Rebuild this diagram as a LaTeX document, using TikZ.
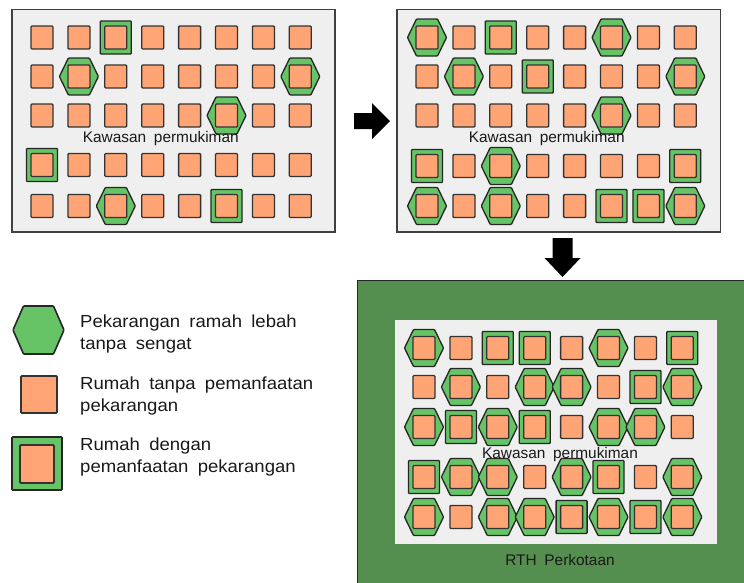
\documentclass[tikz,border=0pt]{standalone}
\usepackage{fontspec}
\setmainfont[WordSpace=1.8]{Liberation Sans}
\newfontfamily\ketfont[WordSpace=1.8,FakeStretch=1.06]{Liberation Sans}
\usepackage{tikz}
\definecolor{oranye}{HTML}{FFA575}
\definecolor{hijau}{HTML}{66C466}
\definecolor{hijautua}{HTML}{558F4F}
\definecolor{abu}{HTML}{EFEFEF}
\tikzset{
  rumah/.style={draw=black!80,fill=oranye,line width=1.3pt,rounded corners=1pt},
  kebun/.style={draw=black!85,fill=hijau,line width=1.3pt,rounded corners=0.8pt},
  panel/.style={draw=black!75,fill=abu,line width=1.2pt},
  teks/.style={inner sep=0pt,text=black!90,font=\fontsize{15.4}{18}\selectfont},
  legenda/.style={anchor=west,align=left,inner sep=0pt,text=black!90,font=\ketfont\fontsize{17.5}{22}\selectfont}
}

\begin{document}
\begin{tikzpicture}[x=1pt,y=-1pt]
      \useasboundingbox(0,0)rectangle(744,582);
      % kawasan awal
      \begin{scope}
        \draw[panel](12,9.5)rectangle(335,232);
        \foreach \c/\y in{2/76.5,8/76.5,6/115.5,3/206}{
          \draw[kebun,shift={({5.1+36.9*\c},\y)}](-19.5,0)--(-10.5,-18.5)--(10.5,-18.5)--(19.5,0)--(10.5,18.5)--(-10.5,18.5)--cycle;
        }
        \foreach \c/\y in{3/37.5,1/165,6/206}{
          \draw[kebun]({5.1+36.9*\c-15.5},\y-16.5)rectangle++(31,33);
        }
        \foreach \y in{37.5,76.5,115.5,165,206}{
          \foreach \c in{1,...,8}
            \draw[rumah]({5.1+36.9*\c-11},\y-11.5)rectangle++(22,23);
        }
        \node[teks](kawasanA)at(160.8,138.5){Kawasan permukiman};
      \end{scope}
      % kawasan dengan pekarangan
      \begin{scope}
        \draw[panel](397,9.5)rectangle(720.5,232);
        \foreach \c/\y in{1/37.5,6/37.5,2/76.5,8/76.5,6/115.5,3/166,1/206,3/206,8/206}{
          \draw[kebun,shift={({390.1+36.9*\c},\y)}](-19.5,0)--(-10.5,-18.5)--(10.5,-18.5)--(19.5,0)--(10.5,18.5)--(-10.5,18.5)--cycle;
        }
        \foreach \c/\y in{3/37.5,4/76.5,1/166,8/166,6/206,7/206}{
          \draw[kebun]({390.1+36.9*\c-15.5},\y-16.5)rectangle++(31,33);
        }
        \foreach \y in{37.5,76.5,115.5,166,206}{
          \foreach \c in{1,...,8}
            \draw[rumah]({390.1+36.9*\c-11},\y-11.5)rectangle++(22,23);
        }
        \node[teks](kawasanB)at(546.7,138.5){Kawasan permukiman};
      \end{scope}
      % panah
      \fill[black](354,113)--(372,113)--(372,103)--(390,121)--(372,139)--(372,129)--(354,129)--cycle;
      \fill[black](552.5,238)--(572.5,238)--(572.5,258)--(580.5,258)--(562.5,277)--(544.5,258)--(552.5,258)--cycle;
      % RTH perkotaan
      \begin{scope}
        \draw[fill=hijautua,draw=black!85,line width=1pt](357,280)rectangle(748,586);
        \fill[abu](394.5,319.5)rectangle(717,544);
        \foreach \c/\y in{1/348,6/348,2/387,4/387,5/387,8/387,1/427,3/427,6/427,7/427,
                         2/477,3/477,5/477,8/477,1/517,3/517,4/517,6/517,8/517}{
          \draw[kebun,shift={({387.1+36.9*\c},\y)}](-19.5,0)--(-10.5,-18.5)--(10.5,-18.5)--(19.5,0)--(10.5,18.5)--(-10.5,18.5)--cycle;
        }
        \foreach \c/\y in{3/348,4/348,8/348,7/387,2/427,4/427,1/477,6/477,5/517,7/517}{
          \draw[kebun]({387.1+36.9*\c-15.5},\y-16.5)rectangle++(31,33);
        }
        \foreach \y in{348,387,427,477,517}{
          \foreach \c in{1,...,8}
            \draw[rumah]({387.1+36.9*\c-11},\y-11.5)rectangle++(22,23);
        }
        \node[teks](kawasanC)at(560,455){Kawasan permukiman};
        \node[teks](rth)at(560,560){RTH Perkotaan};
      \end{scope}
      % legenda
      \draw[kebun,line width=1.6pt,shift={(38.5,330)}](-25.5,0)--(-15,-24)--(15,-24)--(25.5,0)--(15,24)--(-15,24)--cycle;
      \draw[rumah,line width=1.8pt](21,376)rectangle(57,413);
      \draw[kebun,line width=1.8pt](12,437)rectangle(62,490);
      \draw[rumah,line width=1.8pt](20,445)rectangle(54,483);
      \node[legenda](ketA)at(80,334){Pekarangan ramah lebah\\tanpa sengat};
      \node[legenda](ketB)at(80,396){Rumah tanpa pemanfaatan\\pekarangan};
      \node[legenda](ketC)at(80,457){Rumah dengan\\pemanfaatan pekarangan};
    \end{tikzpicture}
\end{document}
